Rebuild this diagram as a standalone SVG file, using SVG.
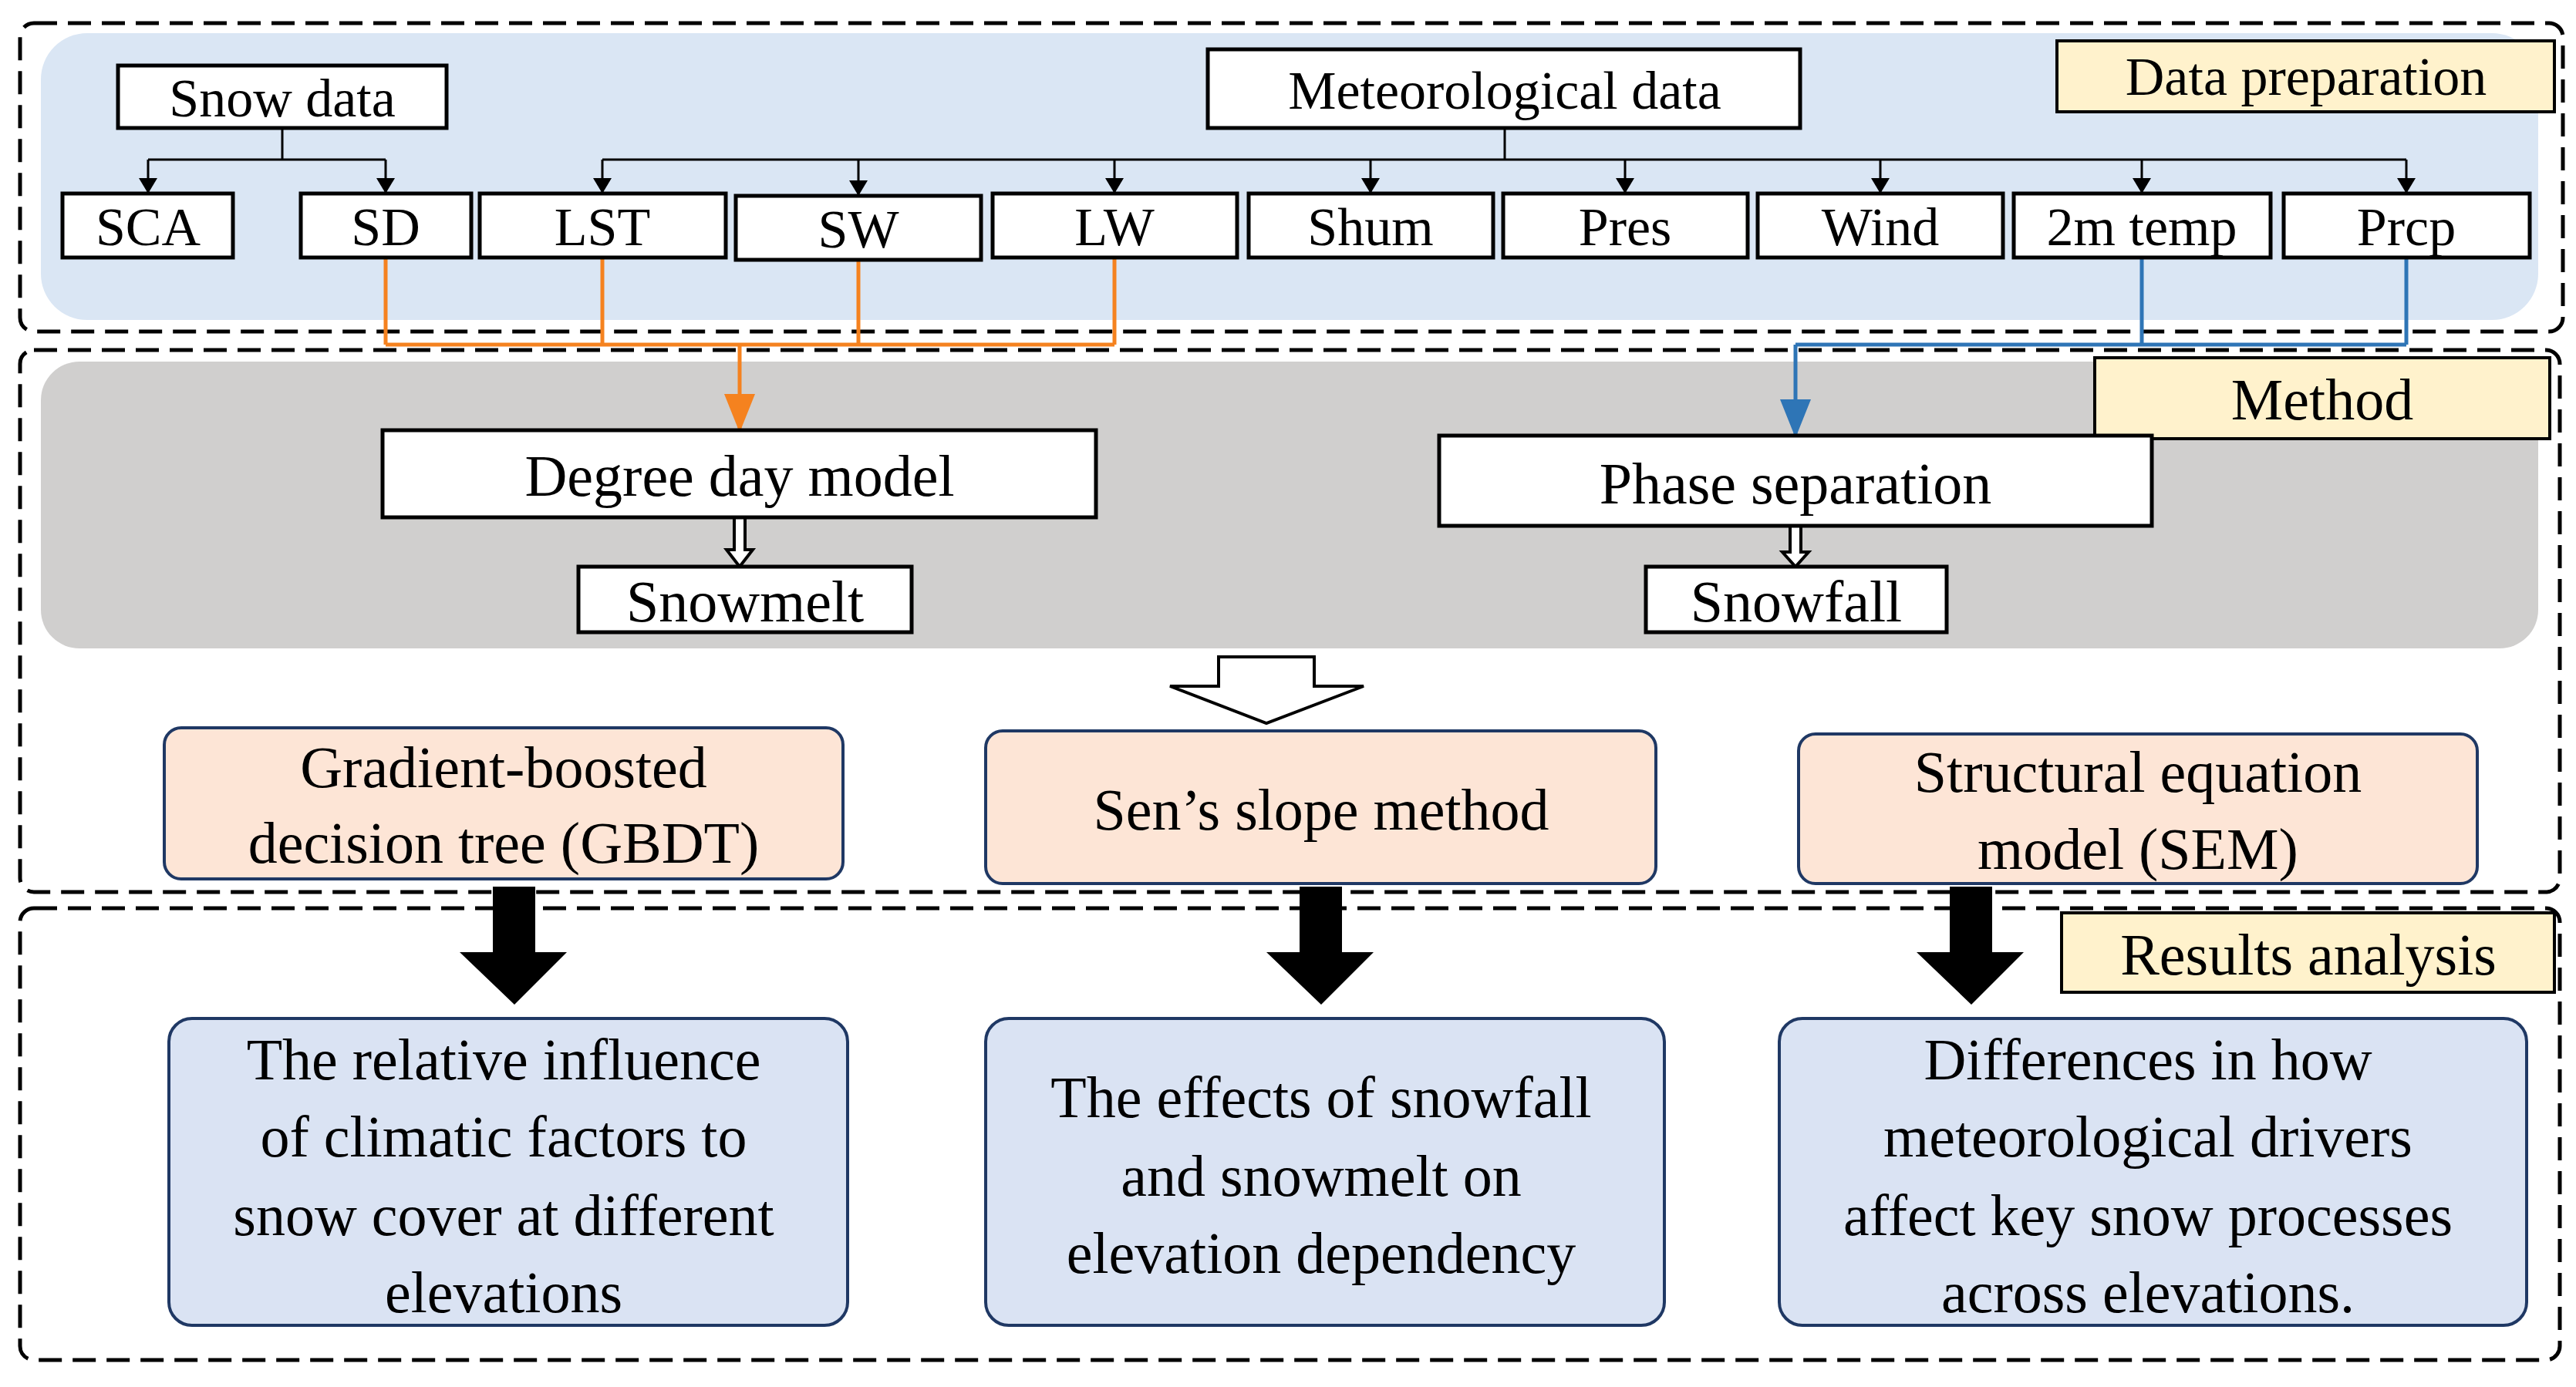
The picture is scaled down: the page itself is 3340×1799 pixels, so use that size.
<svg xmlns="http://www.w3.org/2000/svg" width="3340" height="1799" viewBox="0 0 3340 1799">
<style>
text{font-family:"Liberation Serif","Times New Roman",serif;fill:#000;text-anchor:middle;dominant-baseline:central}
.dash{fill:none;stroke:#000;stroke-width:5;stroke-dasharray:30 14}
.box{fill:#fff;stroke:#000;stroke-width:5}
.lbl{fill:#fff2cc;stroke:#000;stroke-width:4}
.pe{fill:#fde5d6;stroke:#1f3864;stroke-width:4}
.bl{fill:#dae3f3;stroke:#1f3864;stroke-width:4}
.t1{font-size:70px}.t2{font-size:76px}
.k{fill:none;stroke:#000;stroke-width:3}
.o{fill:none;stroke:#f5821f;stroke-width:5}
.b{fill:none;stroke:#2e75b6;stroke-width:5}
.hol{fill:#fff;stroke:#000;stroke-width:4}
.blk{fill:#000}
</style>
<defs>
<marker id="ak" markerWidth="20" markerHeight="24" refX="20" refY="12" orient="auto" markerUnits="userSpaceOnUse" viewBox="0 0 20 24"><path d="M0,0 L20,12 L0,24z" fill="#000"/></marker>
<marker id="ao" markerWidth="10" markerHeight="10" refX="9" refY="5" orient="auto" viewBox="0 0 10 10" markerUnits="strokeWidth"><path d="M0,1 L10,5 L0,9z" fill="#f5821f"/></marker>
<marker id="ab" markerWidth="10" markerHeight="10" refX="9" refY="5" orient="auto" viewBox="0 0 10 10" markerUnits="strokeWidth"><path d="M0,1 L10,5 L0,9z" fill="#2e75b6"/></marker>
</defs>
<rect width="3340" height="1799" fill="#fff"/>
<g id="panels">
<rect x="53" y="43" width="3238" height="372" rx="60" fill="#dae6f4"/>
<rect x="26" y="30" width="3297" height="400" rx="18" class="dash"/>
<rect x="53" y="469" width="3238" height="372" rx="50" fill="#d0cfce"/>
<rect x="26" y="454" width="3293" height="703" rx="18" class="dash"/>
<rect x="26" y="1178" width="3293" height="586" rx="18" class="dash"/>
</g>
<g id="connectors">
<path class="k" d="M366,166V207M192,207H500M1951,166V207M781,207H3120"/>
<g marker-end="url(#ak)">
<path class="k" d="M192,207V251"/><path class="k" d="M500,207V251"/>
<path class="k" d="M781,207V251"/><path class="k" d="M1113,207V254"/><path class="k" d="M1445,207V251"/>
<path class="k" d="M1777,207V251"/><path class="k" d="M2107,207V251"/><path class="k" d="M2438,207V251"/>
<path class="k" d="M2777,207V251"/><path class="k" d="M3120,207V251"/>
</g>
<path class="o" d="M500,334V447M781,334V447M1113,337V447M1445,334V447M500,447H1445"/>
<path class="o" d="M959,447V556" marker-end="url(#ao)"/>
<path class="b" d="M2777,334V447M3120,334V447M2328,447H3120"/>
<path class="b" d="M2328,447V563" marker-end="url(#ab)"/>
<path class="hol" d="M952,671h14v42h10l-17,22l-17,-22h10z"/>
<path class="hol" d="M2321,682h14v34h10l-17,19l-17,-19h10z"/>
<path class="hol" d="M1580,852h124v38h64l-126,48l-125,-48h63z"/>
<path class="blk" d="M639,1150h55v85h41l-68,68l-71,-68h43z"/>
<path class="blk" d="M1685,1150h55v85h41l-68,68l-71,-68h43z"/>
<path class="blk" d="M2528,1150h55v85h41l-68,68l-71,-68h43z"/>
</g>
<g id="snowdata"><rect class="box" x="153" y="85" width="426" height="81"/><text class="t1" x="366" y="127">Snow data</text></g>
<g id="meteo"><rect class="box" x="1566" y="64" width="768" height="102"/><text class="t1" x="1951" y="117">Meteorological data</text></g>
<g id="dataprep"><rect class="lbl" x="2667" y="53" width="645" height="92"/><text class="t1" x="2990" y="99">Data preparation</text></g>
<g id="sca"><rect class="box" x="81" y="251" width="221" height="83"/><text class="t1" x="192" y="294">SCA</text></g>
<g id="sd"><rect class="box" x="390" y="251" width="221" height="83"/><text class="t1" x="500" y="294">SD</text></g>
<g id="lst"><rect class="box" x="622" y="251" width="319" height="83"/><text class="t1" x="781" y="294">LST</text></g>
<g id="sw"><rect class="box" x="954" y="254" width="318" height="83"/><text class="t1" x="1113" y="297">SW</text></g>
<g id="lw"><rect class="box" x="1287" y="251" width="317" height="83"/><text class="t1" x="1445" y="294">LW</text></g>
<g id="shum"><rect class="box" x="1619" y="251" width="317" height="83"/><text class="t1" x="1777" y="294">Shum</text></g>
<g id="pres"><rect class="box" x="1949" y="251" width="317" height="83"/><text class="t1" x="2107" y="294">Pres</text></g>
<g id="wind"><rect class="box" x="2279" y="251" width="318" height="83"/><text class="t1" x="2438" y="294">Wind</text></g>
<g id="temp"><rect class="box" x="2611" y="251" width="333" height="83"/><text class="t1" x="2777" y="294">2m temp</text></g>
<g id="prcp"><rect class="box" x="2961" y="251" width="319" height="83"/><text class="t1" x="3120" y="294">Prcp</text></g>
<g id="method"><rect class="lbl" x="2716" y="464" width="590" height="105"/><text class="t2" x="3011" y="518">Method</text></g>
<g id="degday"><rect class="box" x="496" y="558" width="925" height="113"/><text class="t2" x="959" y="617">Degree day model</text></g>
<g id="snowmelt"><rect class="box" x="750" y="735" width="432" height="85"/><text class="t2" x="966" y="780">Snowmelt</text></g>
<g id="phase"><rect class="box" x="1866" y="565" width="924" height="117"/><text class="t2" x="2328" y="627">Phase separation</text></g>
<g id="snowfall"><rect class="box" x="2134" y="735" width="390" height="85"/><text class="t2" x="2329" y="780">Snowfall</text></g>
<g id="gbdt"><rect class="pe" x="213" y="944" width="880" height="196" rx="22"/><text class="t2" x="653" y="995">Gradient-boosted</text><text class="t2" x="653" y="1093">decision tree (GBDT)</text></g>
<g id="sens"><rect class="pe" x="1278" y="948" width="869" height="198" rx="22"/><text class="t2" x="1713" y="1050">Sen’s slope method</text></g>
<g id="sem"><rect class="pe" x="2332" y="952" width="880" height="194" rx="22"/><text class="t2" x="2772" y="1001">Structural equation</text><text class="t2" x="2772" y="1101">model (SEM)</text></g>
<g id="results"><rect class="lbl" x="2673" y="1184" width="639" height="103"/><text class="t2" x="2993" y="1238">Results analysis</text></g>
<g id="res1"><rect class="bl" x="219" y="1321" width="880" height="398" rx="30"/><text class="t2" x="653" y="1374">The relative influence</text><text class="t2" x="653" y="1474">of climatic factors to</text><text class="t2" x="653" y="1576">snow cover at different</text><text class="t2" x="653" y="1676">elevations</text></g>
<g id="res2"><rect class="bl" x="1278" y="1321" width="880" height="398" rx="30"/><text class="t2" x="1713" y="1423">The effects of snowfall</text><text class="t2" x="1713" y="1525">and snowmelt on</text><text class="t2" x="1713" y="1625">elevation dependency</text></g>
<g id="res3"><rect class="bl" x="2307" y="1321" width="969" height="398" rx="30"/><text class="t2" x="2785" y="1374">Differences in how</text><text class="t2" x="2785" y="1474">meteorological drivers</text><text class="t2" x="2785" y="1576">affect key snow processes</text><text class="t2" x="2785" y="1676">across elevations.</text></g>
</svg>
